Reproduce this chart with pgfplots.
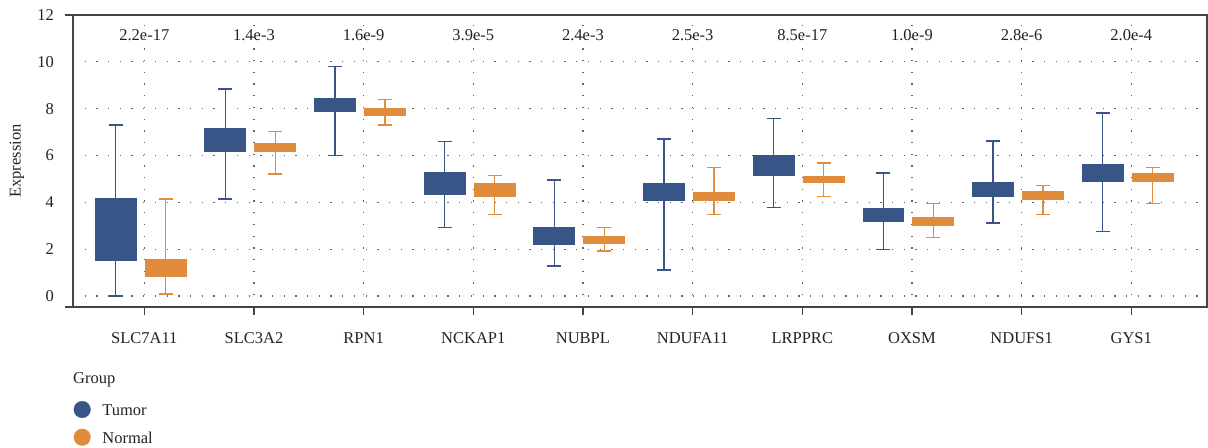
\documentclass[border=0pt]{standalone}
\usepackage{fontspec}
\setmainfont{Liberation Serif}
\usepackage{pgfplots}
\usepackage{pgfplotstable}
\pgfplotsset{compat=1.18}
\usepgfplotslibrary{statistics}
\definecolor{tumorc}{HTML}{375587}
\definecolor{normalc}{HTML}{E08C3C}
\definecolor{framec}{HTML}{444444}
\definecolor{gridc}{HTML}{666666}
\definecolor{textc}{HTML}{222222}

% lower whisker, lower quartile, median, upper quartile, upper whisker
\pgfplotstableread{
lw lq med uq uw
0.00 1.51 2.80 4.14 7.30
4.14 6.16 6.60 7.13 8.84
5.99 7.87 8.15 8.44 9.79
2.92 4.33 4.80 5.28 6.59
1.28 2.19 2.55 2.93 4.95
1.11 4.07 4.45 4.81 6.70
3.77 5.14 5.60 6.01 7.59
1.98 3.17 3.45 3.74 5.25
3.12 4.24 4.55 4.85 6.62
2.75 4.88 5.25 5.62 7.81
}\tumortbl

\pgfplotstableread{
lw lq med uq uw
0.09 0.83 1.20 1.54 4.14
5.21 6.16 6.35 6.52 7.02
7.30 7.70 7.85 7.99 8.40
3.47 4.24 4.50 4.78 5.14
1.92 2.23 2.40 2.55 2.92
3.47 4.07 4.25 4.40 5.48
4.26 4.84 4.95 5.08 5.68
2.49 3.00 3.20 3.36 3.94
3.47 4.11 4.30 4.47 4.71
3.94 4.88 5.05 5.24 5.48
}\normaltbl

\newcommand\boxfromtable[4]{% #1 table, #2 row, #3 colour, #4 position
  \pgfplotstablegetelem{#2}{lw}\of#1\let\blw\pgfplotsretval
  \pgfplotstablegetelem{#2}{lq}\of#1\let\blq\pgfplotsretval
  \pgfplotstablegetelem{#2}{med}\of#1\let\bmed\pgfplotsretval
  \pgfplotstablegetelem{#2}{uq}\of#1\let\buq\pgfplotsretval
  \pgfplotstablegetelem{#2}{uw}\of#1\let\buw\pgfplotsretval
  \edef\tmpplot{\noexpand\addplot[forget plot, draw=#3, fill=#3, line width=1.3bp,
    boxplot prepared={lower whisker=\blw, lower quartile=\blq, median=\bmed,
      upper quartile=\buq, upper whisker=\buw, draw position=#4,
      draw direction=y, box extend=0.37, whisker extend=0.128}] coordinates {};}%
  \tmpplot
}

\begin{document}
\begin{tikzpicture}[font=\fontsize{16.5bp}{19bp}\selectfont, text=textc]
\useasboundingbox (-73bp,-141bp) rectangle (1135bp,307bp);
\begin{axis}[
  scale only axis, width=1134bp, height=292bp,
  at={(0,0)}, anchor=south west,
  xmin=-0.65, xmax=9.69, ymin=-0.47, ymax=12,
  xtick={0,...,9},
  xticklabels={SLC7A11,SLC3A2,RPN1,NCKAP1,NUBPL,NDUFA11,LRPPRC,OXSM,NDUFS1,GYS1},
  ytick={0,2,...,12},
  /pgf/number format/assume math mode=true,
  tick align=outside, tick pos=left,
  major tick length=8bp,
  xtick style={draw=framec, line width=1.2bp},
  ytick style={draw=none},
  axis line style={draw=framec, line width=1.3bp},
  grid=major,
  grid style={draw=gridc, line width=1.3bp, dash pattern=on 1.3bp off 10.4bp},
  xticklabel style={anchor=base, inner sep=0pt, yshift=-28bp},
  yticklabel style={anchor=east, inner sep=0pt, xshift=-11bp},
  ylabel={Expression},
  ylabel style={at={(axis description cs:-0.0494,0.5)}, anchor=center, inner sep=0pt},
  legend style={at={(axis description cs:0,0)}, anchor=north west,
    xshift=0.7bp, yshift=-94bp, draw=none, fill=none, inner sep=0pt, outer sep=0pt,
    row sep=10.7bp, column sep=11.7bp, nodes={inner sep=0pt}},
  legend cell align=left,
]
\boxfromtable{\tumortbl}{0}{tumorc}{-0.26}
\boxfromtable{\normaltbl}{0}{normalc}{0.195}
\boxfromtable{\tumortbl}{1}{tumorc}{0.74}
\boxfromtable{\normaltbl}{1}{normalc}{1.195}
\boxfromtable{\tumortbl}{2}{tumorc}{1.74}
\boxfromtable{\normaltbl}{2}{normalc}{2.195}
\boxfromtable{\tumortbl}{3}{tumorc}{2.74}
\boxfromtable{\normaltbl}{3}{normalc}{3.195}
\boxfromtable{\tumortbl}{4}{tumorc}{3.74}
\boxfromtable{\normaltbl}{4}{normalc}{4.195}
\boxfromtable{\tumortbl}{5}{tumorc}{4.74}
\boxfromtable{\normaltbl}{5}{normalc}{5.195}
\boxfromtable{\tumortbl}{6}{tumorc}{5.74}
\boxfromtable{\normaltbl}{6}{normalc}{6.195}
\boxfromtable{\tumortbl}{7}{tumorc}{6.74}
\boxfromtable{\normaltbl}{7}{normalc}{7.195}
\boxfromtable{\tumortbl}{8}{tumorc}{7.74}
\boxfromtable{\normaltbl}{8}{normalc}{8.195}
\boxfromtable{\tumortbl}{9}{tumorc}{8.74}
\boxfromtable{\normaltbl}{9}{normalc}{9.195}
\node[anchor=base] at (axis cs:0,10.93) {2.2e-17};
\node[anchor=base] at (axis cs:1,10.93) {1.4e-3};
\node[anchor=base] at (axis cs:2,10.93) {1.6e-9};
\node[anchor=base] at (axis cs:3,10.93) {3.9e-5};
\node[anchor=base] at (axis cs:4,10.93) {2.4e-3};
\node[anchor=base] at (axis cs:5,10.93) {2.5e-3};
\node[anchor=base] at (axis cs:6,10.93) {8.5e-17};
\node[anchor=base] at (axis cs:7,10.93) {1.0e-9};
\node[anchor=base] at (axis cs:8,10.93) {2.8e-6};
\node[anchor=base] at (axis cs:9,10.93) {2.0e-4};
\addlegendimage{legend image code/.code={\fill[tumorc] (0bp,1bp) circle (8.3bp);}}
\addlegendentry{Tumor}
\addlegendimage{legend image code/.code={\fill[normalc] (0bp,1bp) circle (8.3bp);}}
\addlegendentry{Normal}
\end{axis}
\draw[framec, line width=1.3bp] (-7.6bp,0) -- (0,0);
\draw[framec, line width=1.3bp] (-7.6bp,292bp) -- (0,292bp);
\node[anchor=base west, inner sep=0pt] at (0,-76bp) {Group};
\end{tikzpicture}
\end{document}
